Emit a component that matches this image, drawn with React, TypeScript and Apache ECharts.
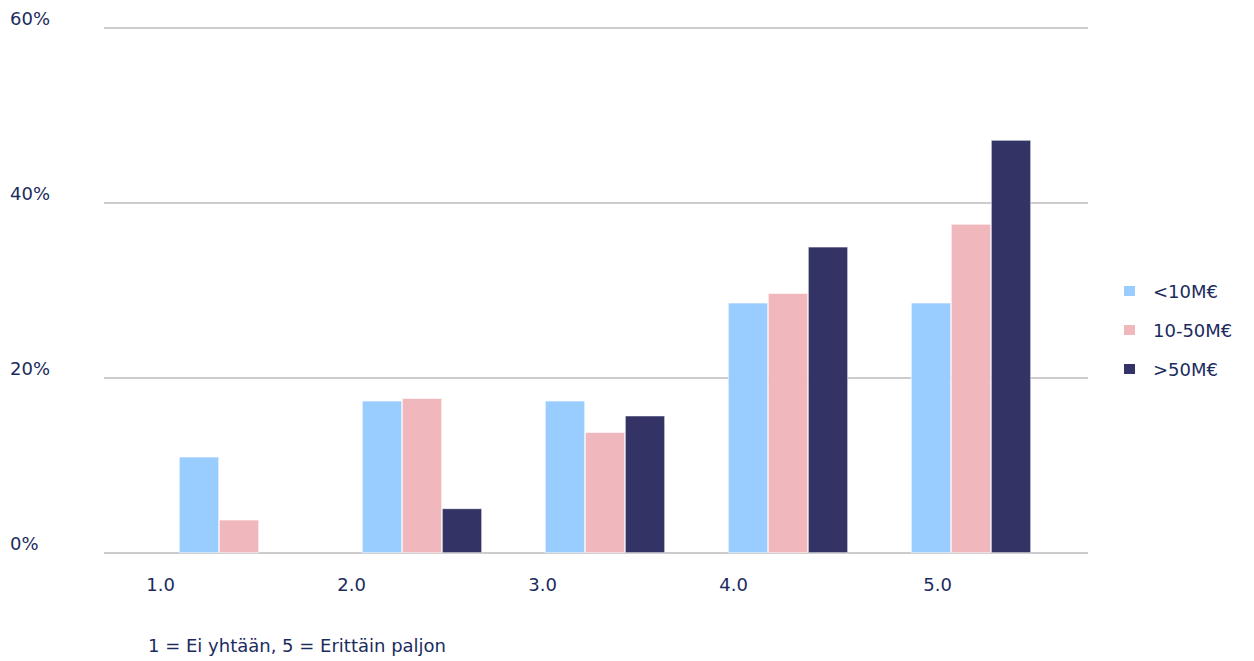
import React, { useEffect, useRef } from "react";
import * as echarts from "echarts";

const categories = ["1.0", "2.0", "3.0", "4.0", "5.0"];
const seriesNames = ["<10M€", "10-50M€", ">50M€"];
const small = [11.0, 17.4, 17.4, 28.6, 28.6];
const medium = [3.8, 17.7, 13.8, 29.7, 37.6];
const large: (number | null)[] = [null, 5.1, 15.7, 35.0, 47.2];
const yTicks = [0, 20, 40, 60];
const footnote = "1 = Ei yhtään, 5 = Erittäin paljon";

const colors = ["#99ccff", "#f0b7bd", "#333366"];
const textColor = "#1b2b5e";
const font = "'DejaVu Sans', sans-serif";
const fontSize = 18;

// per-label shift to the left of each group's centre
const labelShift = [64, 56, 48, 40, 19];

export default function App() {
  const ref = useRef<HTMLDivElement>(null);

  useEffect(() => {
    if (!ref.current) return;
    const chart = echarts.init(ref.current, undefined, { renderer: "svg" });
    const rich: Record<string, any> = {};
    labelShift.forEach((s, i) => {
      rich["l" + i] = {
        color: textColor,
        fontSize,
        fontFamily: font,
        padding: [0, s, 0, 0],
      };
    });
    chart.setOption({
      animation: false,
      textStyle: { fontFamily: font },
      grid: [
        { left: 104, right: 166, top: 28, bottom: 108 },
        { left: 147.5, right: 191.5, top: 28, bottom: 108 },
      ],
      xAxis: [
        {
          gridIndex: 0,
          type: "category",
          data: categories,
          show: false,
        },
        {
          gridIndex: 1,
          type: "category",
          data: categories,
          axisLine: { show: false },
          axisTick: { show: false },
          axisLabel: {
            align: "right",
            margin: 22,
            formatter: (v: string, i: number) => `{l${i}|${v}}`,
            rich,
          },
        },
      ],
      yAxis: [
        {
          gridIndex: 0,
          type: "value",
          min: 0,
          max: yTicks[yTicks.length - 1],
          interval: 20,
          axisLine: { show: false },
          axisTick: { show: false },
          splitLine: { lineStyle: { color: "#cccccc", width: 2 } },
          axisLabel: {
            formatter: "{value}%",
            align: "left",
            margin: 94,
            verticalAlign: "bottom",
            padding: [0, 0, 1, 0],
            color: textColor,
            fontSize,
            fontFamily: font,
          },
        },
        {
          gridIndex: 1,
          type: "value",
          min: 0,
          max: yTicks[yTicks.length - 1],
          interval: 20,
          show: false,
          splitLine: { show: false },
        },
      ],
      legend: {
        orient: "vertical",
        left: 1122,
        top: 277,
        padding: 0,
        itemWidth: 13,
        itemHeight: 12,
        itemGap: 11,
        icon: "rect",
        data: seriesNames,
        textStyle: {
          color: textColor,
          fontSize,
          lineHeight: 18,
          fontFamily: font,
          padding: [10, 0, 0, 12],
        },
      },
      graphic: [
        {
          type: "text",
          left: 148,
          top: 636,
          style: {
            text: footnote,
            fill: textColor,
            fontSize,
            fontFamily: font,
          },
        },
      ],
      series: [small, medium, large].map((d, i) => ({
        name: seriesNames[i],
        type: "bar",
        xAxisIndex: 1,
        yAxisIndex: 1,
        data: d,
        barWidth: 40,
        barGap: "0%",
        itemStyle: { color: colors[i], borderColor: "#ffffff", borderWidth: 0.6 },
      })),
    });
    return () => chart.dispose();
  }, []);

  return (
    <div
      ref={ref}
      style={{ position: "absolute", left: 0, top: 0, width: 1254, height: 661 }}
    />
  );
}
